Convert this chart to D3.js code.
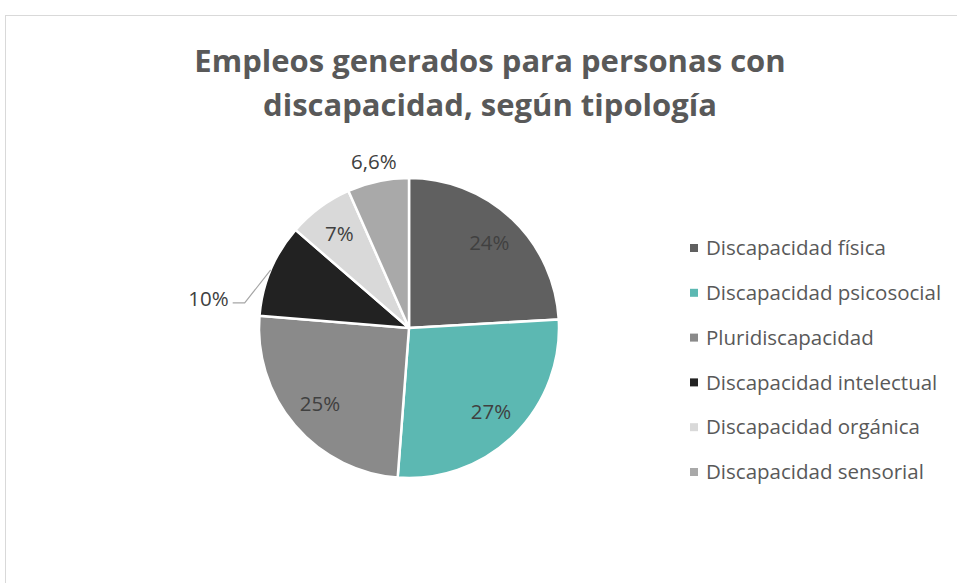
<!DOCTYPE html>
<html>
<head>
<meta charset="utf-8">
<script src="https://cdn.jsdelivr.net/npm/d3@7"></script>
<style>
  body { margin: 0; background: #fff; }
  svg { display: block; font-family: "Open Sans", "Noto Sans", sans-serif; }
</style>
</head>
<body>
<svg id="chart" width="957" height="583"></svg>
<script>
// data
var categories = ["Discapacidad física", "Discapacidad psicosocial", "Pluridiscapacidad",
                  "Discapacidad intelectual", "Discapacidad orgánica", "Discapacidad sensorial"];
var values = [24, 27, 25, 10, 7, 6.6];
var valueLabels = ["24%", "27%", "25%", "10%", "7%", "6,6%"];
var colors = ["#606060", "#5cb8b2", "#8a8a8a", "#222222", "#d9d9d9", "#a9a9a9"];
var titleLines = ["Empleos generados para personas con", "discapacidad, según tipología"];

var svg = d3.select("#chart"),
    cx = 409, cy = 328, R = 150;

// chart area border
svg.append("rect")
    .attr("x", 5.5).attr("y", 15.5)
    .attr("width", 1000).attr("height", 700)
    .attr("fill", "none")
    .attr("stroke", "#d9d9d9");

svg.append("text")
    .attr("x", 490).attr("y", 72)
    .attr("text-anchor", "middle")
    .attr("fill", "#595959")
    .attr("font-size", 31)
    .attr("font-weight", 700)
    .selectAll("tspan")
    .data(titleLines)
    .enter().append("tspan")
      .attr("x", 490)
      .attr("dy", function(d, i) { return i ? 44 : 0; })
      .text(function(d) { return d; });

var pie = d3.pie().sort(null).value(function(d) { return d; });
var arcs = pie(values);

var arc = d3.arc().innerRadius(0).outerRadius(R);
var labelArc = d3.arc().innerRadius(117 * 2 - R).outerRadius(R); // centroid at r=117

var g = svg.append("g").attr("transform", "translate(" + cx + "," + cy + ")");

g.selectAll("path.slice")
  .data(arcs)
  .enter().append("path")
    .attr("class", "slice")
    .attr("d", arc)
    .attr("fill", function(d, i) { return colors[i]; })
    .attr("stroke", "#fff")
    .attr("stroke-width", 2.5)
    .attr("stroke-linejoin", "round");

function polar(a, r) { return [Math.sin(a) * r, -Math.cos(a) * r]; }
function mid(d) { return (d.startAngle + d.endAngle) / 2; }

arcs.forEach(function(d, i) {
  var pos, anchor = "middle";
  if (i === 3) {
    // outside label with leader line
    var p0 = polar(mid(d), R),
        p1 = [p0[0] - 26, p0[1] + 33],
        p2 = [p1[0] - 12, p1[1]];
    g.append("polyline")
        .attr("points", [p0, p1, p2].map(function(p) { return p.join(","); }).join(" "))
        .attr("fill", "none")
        .attr("stroke", "#a6a6a6")
        .attr("stroke-width", 1.2);
    pos = [p2[0] - 4, p2[1] - 4];
    anchor = "end";
  } else if (i === 5) {
    pos = polar(mid(d), R + 20);
  } else {
    pos = labelArc.centroid(d);
  }
  g.append("text")
      .attr("x", pos[0]).attr("y", pos[1])
      .attr("dy", "0.35em")
      .attr("text-anchor", anchor)
      .attr("fill", "#404040")
      .attr("font-size", 20.5)
      .text(valueLabels[i]);
});

var legend = svg.append("g").attr("transform", "translate(690,248)");
var row = legend.selectAll("g")
  .data(categories)
  .enter().append("g")
    .attr("transform", function(d, i) { return "translate(0," + (i * 44.8) + ")"; });
row.append("rect")
    .attr("x", 0).attr("y", -4)
    .attr("width", 8).attr("height", 8)
    .attr("fill", function(d, i) { return colors[i]; });
row.append("text")
    .attr("x", 16).attr("dy", "0.35em")
    .attr("fill", "#595959")
    .attr("font-size", 20.5)
    .text(function(d) { return d; });
</script>
</body>
</html>
